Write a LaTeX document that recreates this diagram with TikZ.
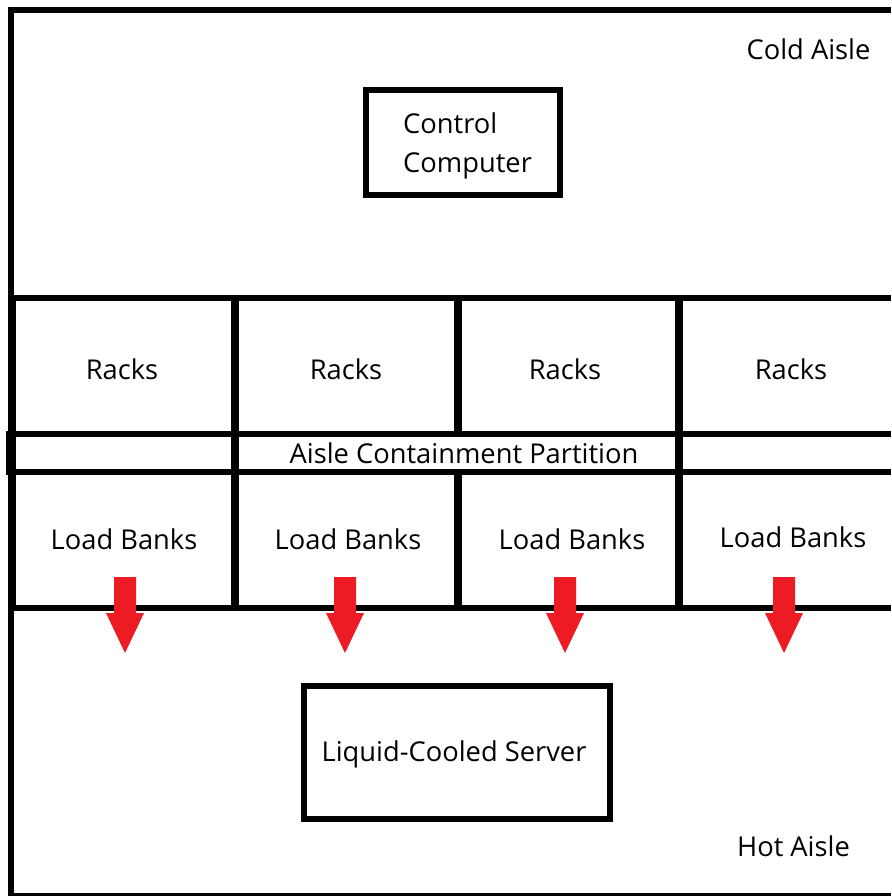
\documentclass[tikz,border=0pt]{standalone}
\usepackage{fontspec}
\setmainfont{Open Sans}
\begin{document}
\begin{tikzpicture}[x=1pt,y=-1pt,
  wall/.style={line width=6pt,draw=black},
  divider/.style={line width=8.5pt,draw=black},
  label/.style={font=\fontsize{27.3}{32}\selectfont,text=black,inner sep=0pt,anchor=base},
  boxnode/.style={draw=black,line width=6pt,inner sep=0pt},
  heatarrow/.style={fill=heatred,draw=none}]
\definecolor{heatred}{RGB}{237,28,36}
\useasboundingbox (0,0) rectangle (891,896);

% outer room frame (open on the right)
\draw[wall] (891,10) -- (11,10) -- (11,896);
\draw[line width=2.5pt] (11,894.5) -- (891,894.5);

% rack / partition / load-bank rows
\draw[wall] (11,298) -- (891,298);
\draw[wall] (6,434) -- (891,434);
\draw[wall] (6,472) -- (891,472);
\draw[wall] (11,608) -- (891,608);
\fill[black] (6,431) rectangle (16,475);
\draw[line width=7pt] (12,298) -- (12,608);
\foreach \x in {235,679}
  \draw[divider] (\x,295) -- (\x,611);
% the middle divider stops at the partition strip
\draw[divider] (458,295) -- (458,434);
\draw[divider] (458,472) -- (458,611);

% Cold aisle
\node[label] (cold) at (808.5,60) {Cold Aisle};
\node[boxnode,minimum width=194pt,minimum height=105pt] (ccbox) at (463,142.5) {};
\node[label,anchor=base west] (cc1) at (403,134) {Control};
\node[label,anchor=base west] (cc2) at (403,172) {Computer};

% Racks
\node[label] (r1) at (122,379) {Racks};
\node[label] (r2) at (346,379) {Racks};
\node[label] (r3) at (565,379) {Racks};
\node[label] (r4) at (791,379) {Racks};

% Partition
\node[label] (part) at (464,463) {Aisle Containment Partition};

% Load banks
\node[label] (lb1) at (124,549) {Load Banks};
\node[label] (lb2) at (348,549) {Load Banks};
\node[label] (lb3) at (572,549) {Load Banks};
\node[label] (lb4) at (793,547) {Load Banks};

% hot air leaving the load banks
\foreach \c in {125,345,565,784}
  \fill[heatarrow] (\c-11,577) -- (\c+11,577) -- (\c+11,613) -- (\c+19,613)
     -- (\c,653) -- (\c-19,613) -- (\c-11,613) -- cycle;

% Hot aisle
\node[boxnode,minimum width=306pt,minimum height=133pt] (lcbox) at (457,752.5) {};
\node[label] (lc) at (454,761) {Liquid-Cooled Server};
\node[label] (hot) at (793.5,856) {Hot Aisle};
\end{tikzpicture}
\end{document}
